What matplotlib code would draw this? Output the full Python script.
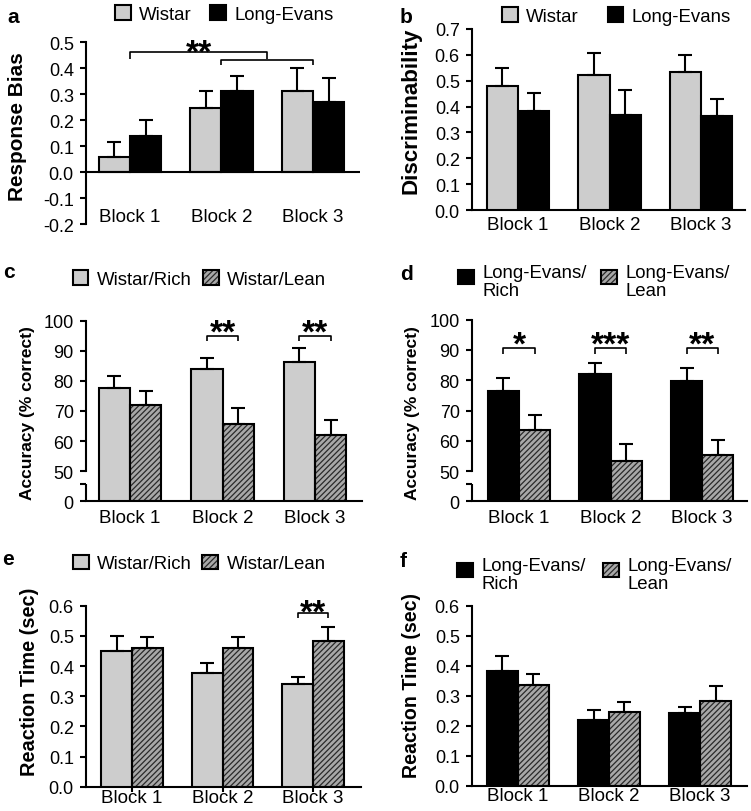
import matplotlib
matplotlib.use('Agg')
import matplotlib.pyplot as plt
import numpy as np
from matplotlib.patches import Patch
from matplotlib.legend_handler import HandlerTuple, HandlerPatch

plt.rcParams['font.family'] = ['Liberation Sans', 'DejaVu Sans']
plt.rcParams['axes.unicode_minus'] = False
plt.rcParams['hatch.linewidth'] = 0.9

# ---------------- data ----------------
blocks = ['Block 1', 'Block 2', 'Block 3']

bias_wistar = [0.058, 0.245, 0.310]
bias_wistar_err = [0.057, 0.065, 0.090]
bias_le = [0.140, 0.310, 0.270]
bias_le_err = [0.060, 0.060, 0.090]

disc_wistar = [0.478, 0.521, 0.532]
disc_wistar_err = [0.070, 0.088, 0.066]
disc_le = [0.382, 0.369, 0.362]
disc_le_err = [0.070, 0.095, 0.069]

acc_w_rich = [77.8, 83.9, 86.2]
acc_w_rich_err = [3.9, 3.6, 4.7]
acc_w_lean = [72.1, 65.6, 62.0]
acc_w_lean_err = [4.6, 5.3, 4.9]

acc_le_rich = [76.6, 82.2, 79.7]
acc_le_rich_err = [4.2, 3.6, 4.5]
acc_le_lean = [63.6, 53.4, 55.4]
acc_le_lean_err = [4.9, 5.6, 5.0]

rt_w_rich = [0.449, 0.376, 0.340]
rt_w_rich_err = [0.049, 0.034, 0.025]
rt_w_lean = [0.459, 0.461, 0.484]
rt_w_lean_err = [0.036, 0.034, 0.046]

rt_le_rich = [0.383, 0.220, 0.241]
rt_le_rich_err = [0.050, 0.032, 0.020]
rt_le_lean = [0.337, 0.247, 0.282]
rt_le_lean_err = [0.036, 0.033, 0.050]

sig_c = [(1, '**'), (2, '**')]
sig_d = [(0, '*'), (1, '***'), (2, '**')]
sig_e = [(2, '**')]

# ---------------- style ----------------
LIGHT = '#cdcdcd'
LEAN_FACE = '#a8a8a8'
HATCH_COLOR = '#2a2a2a'
HATCH = '//////'
W = 0.34
LW = 1.5
FIG_W, FIG_H = 751, 812

fig = plt.figure(figsize=(FIG_W / 100, FIG_H / 100), dpi=100)
label_targets = []


def add_axes_px(left, right, top, bottom):
    return fig.add_axes([left / FIG_W, 1 - bottom / FIG_H,
                         (right - left) / FIG_W, (bottom - top) / FIG_H])


def draw_pair(ax, v1, e1, s1, v2, e2, s2, bottom=0.0):
    x = np.arange(len(blocks))
    for off, vals, errs, st in [(-W / 2, v1, e1, s1), (W / 2, v2, e2, s2)]:
        vals = np.asarray(vals, float)
        h = vals - bottom
        if st == 'hatch':
            ax.bar(x + off, h, W, bottom=bottom, color=LEAN_FACE,
                   edgecolor=HATCH_COLOR, hatch=HATCH, linewidth=0, zorder=2)
            ax.bar(x + off, h, W, bottom=bottom, fill=False,
                   edgecolor='black', linewidth=LW, zorder=3)
        else:
            ax.bar(x + off, h, W, bottom=bottom, color=st,
                   edgecolor='black', linewidth=LW, zorder=3)
        ax.errorbar(x + off, vals, yerr=[np.zeros(len(vals)), errs], fmt='none',
                    ecolor='black', elinewidth=LW, capsize=4.8, capthick=LW,
                    zorder=4)


def style_axes(ax, xlim, xpad, ylabel, ylen_px, ylx, yly, xtick_len=0):
    for s in ['top', 'right']:
        ax.spines[s].set_visible(False)
    for s in ['left', 'bottom']:
        ax.spines[s].set_linewidth(LW)
    ax.set_xlim(*xlim)
    ax.set_xticks(np.arange(len(blocks)))
    ax.set_xticklabels(blocks, fontsize=13.5)
    ax.tick_params(axis='x', length=xtick_len, width=LW, pad=xpad)
    ax.tick_params(axis='y', which='both', direction='out', length=4.3,
                   width=LW, labelsize=13, pad=4.5)
    ax.set_ylabel(ylabel, fontsize=14, fontweight='bold', va='baseline')
    ax.yaxis.set_label_coords(ylx, yly)
    label_targets.append((ax, ylen_px))


def bracket(ax, x0, x1, y, drop, lw=1.2):
    ax.plot([x0, x0, x1, x1], [y - drop, y, y, y - drop], color='black',
            lw=lw, solid_capstyle='butt', zorder=5, clip_on=False)


def stars(ax, x, y, txt, dy_pt):
    ax.annotate(txt, xy=(x, y), xytext=(0, dy_pt), textcoords='offset points',
                ha='center', va='baseline', fontsize=24, fontweight='bold',
                annotation_clip=False)


class UpPatchHandler(HandlerPatch):
    def __init__(self, shift, **kw):
        super().__init__(**kw)
        self.shift = shift

    def create_artists(self, legend, orig_handle, xdescent, ydescent, width,
                       height, fontsize, trans):
        return super().create_artists(legend, orig_handle, xdescent,
                                      ydescent - self.shift * fontsize, width,
                                      height, fontsize, trans)


def make_legend(handles, labels, px, py, colsp, loc='center left', shift=None):
    hmap = {tuple: HandlerTuple(ndivide=1, pad=0)}
    if shift is not None:
        hmap[Patch] = UpPatchHandler(shift)
    leg = fig.legend(handles, labels, loc=loc,
                     bbox_to_anchor=(px / FIG_W, 1 - py / FIG_H), ncol=2,
                     frameon=False, fontsize=13.4, handlelength=0.85,
                     handleheight=0.85, handletextpad=0.45,
                     columnspacing=colsp, borderpad=0, borderaxespad=0,
                     handler_map=hmap)
    for t in leg.get_texts():
        t.set_linespacing(1.1)
    return leg


h_light = Patch(facecolor=LIGHT, edgecolor='black', linewidth=LW)
h_black = Patch(facecolor='black', edgecolor='black', linewidth=LW)
h_lean = (Patch(facecolor=LEAN_FACE, edgecolor=HATCH_COLOR, hatch=HATCH, linewidth=0),
          Patch(facecolor='none', edgecolor='black', linewidth=LW))

# ---------------- panel a ----------------
ax = add_axes_px(86, 360, 43, 225)
draw_pair(ax, bias_wistar, bias_wistar_err, LIGHT, bias_le, bias_le_err, 'black')
ax.set_ylim(-0.2, 0.5)
ax.set_yticks(np.arange(-0.2, 0.51, 0.1))
ax.set_yticklabels(['%.1f' % v for v in np.arange(-0.2, 0.51, 0.1)])
style_axes(ax, (-0.481, 2.514), -11.2, 'Response Bias', 149, -0.23, 0.541)
ax.spines['bottom'].set_visible(False)
ax.axhline(0, color='black', lw=LW, zorder=5)
bracket(ax, 0, 1.5, 0.463, 0.028)
bracket(ax, 1, 2, 0.432, 0.019)
stars(ax, 0.75, 0.463, '**', -6.8)
make_legend([h_light, h_black], ['Wistar', 'Long-Evans'], 115, 15, 1.0)
fig.text(7 / FIG_W, 1 - 23 / FIG_H, 'a', fontsize=15, fontweight='bold',
         ha='left', va='baseline')

# ---------------- panel b ----------------
ax = add_axes_px(472, 745, 30, 211)
draw_pair(ax, disc_wistar, disc_wistar_err, LIGHT, disc_le, disc_le_err, 'black')
ax.set_ylim(0, 0.7)
ax.set_yticks(np.arange(0, 0.71, 0.1))
ax.set_yticklabels(['%.1f' % v for v in np.arange(0, 0.71, 0.1)])
style_axes(ax, (-0.503, 2.481), 4.0, 'Discriminability', 167, -0.2026, 0.554)
make_legend([h_light, h_black], ['Wistar', 'Long-Evans'], 502, 17, 1.55)
fig.text(400 / FIG_W, 1 - 23 / FIG_H, 'b', fontsize=15, fontweight='bold',
         ha='left', va='baseline')


def broken_axis(ax):
    ax.set_ylim(40, 100)
    ax.set_yticks([40, 50, 60, 70, 80, 90, 100])
    ax.set_yticklabels(['0', '50', '60', '70', '80', '90', '100'])
    ax.set_yticks([45.7], minor=True)
    ax.spines['left'].set_bounds(50, 100)
    ax.plot([0, 0], [40, 45.7], transform=ax.get_yaxis_transform(),
            color='black', lw=LW, clip_on=False, solid_capstyle='butt')


# ---------------- panel c ----------------
ax = add_axes_px(86, 362, 321.7, 502.3)
draw_pair(ax, acc_w_rich, acc_w_rich_err, LIGHT, acc_w_lean, acc_w_lean_err,
          'hatch', bottom=40)
broken_axis(ax)
style_axes(ax, (-0.476, 2.508), 5.4, 'Accuracy (% correct)', 175, -0.197, 0.492)
for gx, txt in sig_c:
    bracket(ax, gx - W / 2, gx + W / 2, 95.0, 1.7)
    stars(ax, gx, 95.0, txt, -4.2)
make_legend([h_light, h_lean], ['Wistar/Rich', 'Wistar/Lean'], 72.5, 280, 0.62)
fig.text(3 / FIG_W, 1 - 278 / FIG_H, 'c', fontsize=15, fontweight='bold',
         ha='left', va='baseline')

# ---------------- panel d ----------------
ax = add_axes_px(472, 747, 320.7, 502.3)
draw_pair(ax, acc_le_rich, acc_le_rich_err, 'black', acc_le_lean, acc_le_lean_err,
          'hatch', bottom=40)
broken_axis(ax)
style_axes(ax, (-0.514, 2.49), 5.4, 'Accuracy (% correct)', 175, -0.201, 0.492)
for gx, txt in sig_d:
    bracket(ax, gx - W / 2, gx + W / 2, 90.8, 2.1)
    stars(ax, gx, 90.8, txt, -4.0)
make_legend([h_black, h_lean], ['Long-Evans/\nRich', 'Long-Evans/\nLean'],
            458, 265, 0.79, loc='upper left', shift=0.25)
fig.text(400 / FIG_W, 1 - 280 / FIG_H, 'd', fontsize=15, fontweight='bold',
         ha='left', va='baseline')

# ---------------- panel e ----------------
ax = add_axes_px(86, 361, 606.7, 787.7)
draw_pair(ax, rt_w_rich, rt_w_rich_err, LIGHT, rt_w_lean, rt_w_lean_err, 'hatch')
ax.set_ylim(0, 0.6)
ax.set_yticks(np.arange(0, 0.61, 0.1))
ax.set_yticklabels(['%.1f' % v for v in np.arange(0, 0.61, 0.1)])
style_axes(ax, (-0.508, 2.53), -2.0, 'Reaction Time (sec)', 189, -0.185, 0.587,
           xtick_len=3.5)
for gx, txt in sig_e:
    bracket(ax, gx - W / 2, gx + W / 2, 0.575, 0.017)
    stars(ax, gx, 0.575, txt, -5.9)
make_legend([h_light, h_lean], ['Wistar/Rich', 'Wistar/Lean'], 73, 564.5, 0.55)
fig.text(2 / FIG_W, 1 - 565 / FIG_H, 'e', fontsize=15, fontweight='bold',
         ha='left', va='baseline')

# ---------------- panel f ----------------
ax = add_axes_px(472, 747, 606.7, 786.7)
draw_pair(ax, rt_le_rich, rt_le_rich_err, 'black', rt_le_lean, rt_le_lean_err, 'hatch')
ax.set_ylim(0, 0.6)
ax.set_yticks(np.arange(0, 0.61, 0.1))
ax.set_yticklabels(['%.1f' % v for v in np.arange(0, 0.61, 0.1)])
style_axes(ax, (-0.505, 2.516), 0.7, 'Reaction Time (sec)', 186, -0.201, 0.565)
make_legend([h_black, h_lean], ['Long-Evans/\nRich', 'Long-Evans/\nLean'],
            457, 558, 0.95, loc='upper left', shift=0.25)
fig.text(400 / FIG_W, 1 - 567 / FIG_H, 'f', fontsize=15, fontweight='bold',
         ha='left', va='baseline')

# fit y-label sizes to the measured lengths in the reference
fig.canvas.draw()
renderer = fig.canvas.get_renderer()
for ax_, target in label_targets:
    lab = ax_.yaxis.label
    bb = lab.get_window_extent(renderer)
    if bb.height > 0:
        lab.set_fontsize(lab.get_fontsize() * target / bb.height)

fig.savefig('out.png', dpi=100)
